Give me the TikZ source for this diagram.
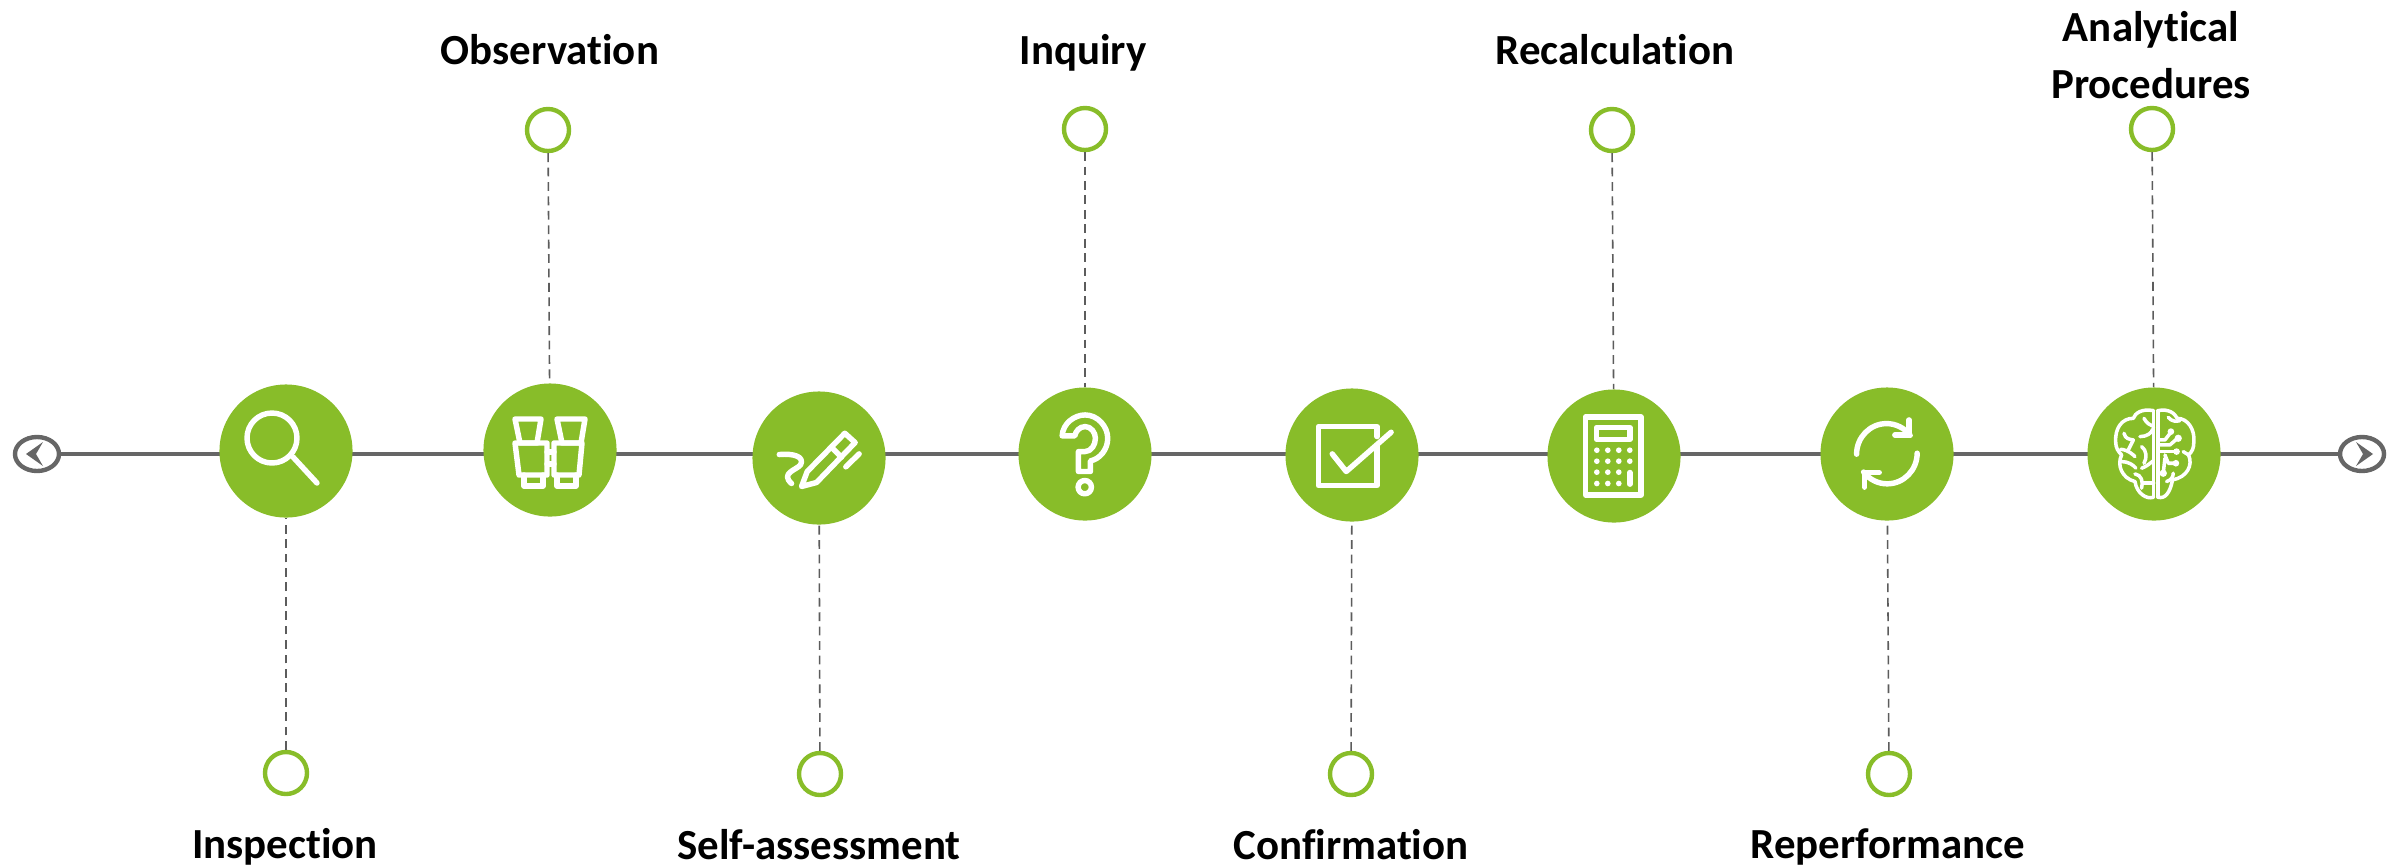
\documentclass[tikz,border=0pt]{standalone}
\usepackage{fontspec}
\setmainfont[Ligatures=NoCommon]{Carlito}
\usetikzlibrary{shapes.geometric}
\definecolor{lime}{HTML}{88BD29}
\definecolor{rule}{HTML}{666666}
\definecolor{ink}{HTML}{000000}
\tikzset{
  x=0.01cm,y=-0.01cm,
  hub/.style={circle,fill=lime,minimum size=1.33cm,inner sep=0pt},
  dot/.style={circle,draw=lime,line width=1.25pt,fill=white,minimum size=0.42cm,inner sep=0pt},
  axis/.style={draw=rule,line width=1pt},
  leader/.style={draw=rule!90!black,line width=0.45pt,dash pattern=on 2.5pt off 1.6pt},
  glyph/.style={draw=white,line width=1.55pt,line cap=round,line join=round},
  glyphthin/.style={draw=white,line width=1pt,line cap=round,line join=round},
  lab/.style={font=\fontsize{12.2}{16.2}\selectfont\bfseries,text=ink,align=center,inner sep=0pt},
  endcap/.style={ellipse,draw=rule,line width=1.25pt,fill=white,minimum width=0.44cm,minimum height=0.34cm,inner sep=0pt}
}
\begin{document}
\begin{tikzpicture}
\useasboundingbox (0,0) rectangle (2400,866);
\fill[white] (0,0) rectangle (2400,866);
\node[endcap] (L) at (37,454) {};
\node[endcap] (R) at (2362,454) {};
\draw[axis] (L) -- (R);
\fill[rule] (43,442) -- (26,454) -- (43,466) -- (36,454) -- cycle;
\fill[rule] (2356,442) -- (2373,454) -- (2356,466) -- (2363,454) -- cycle;
% hubs
\node[hub] (h1) at (286,451) {};
\node[hub] (h2) at (550,450) {};
\node[hub] (h3) at (819,458) {};
\node[hub] (h4) at (1085,454) {};
\node[hub] (h5) at (1352,455) {};
\node[hub] (h6) at (1614,456) {};
\node[hub] (h7) at (1887,454) {};
\node[hub] (h8) at (2154,454) {};
% dots
\node[dot] (d1) at (286,773) {};
\node[dot] (d2) at (548,130) {};
\node[dot] (d3) at (820,774) {};
\node[dot] (d4) at (1085,129) {};
\node[dot] (d5) at (1351,774) {};
\node[dot] (d6) at (1612,130) {};
\node[dot] (d7) at (1889,774) {};
\node[dot] (d8) at (2152,129) {};
\draw[leader] (d1) -- (h1);
\draw[leader] (d2) -- (h2);
\draw[leader] (d3) -- (h3);
\draw[leader] (d4) -- (h4);
\draw[leader] (d5) -- (h5);
\draw[leader] (d6) -- (h6);
\draw[leader] (d7) -- (h7);
\draw[leader] (d8) -- (h8);
% labels
\node[lab,anchor=base] (t1) at (285,858) {Inspection};
\node[lab,anchor=base] (t2) at (550,64) {Observation};
\node[lab,anchor=base] (t3) at (819,859) {Self-assessment};
\node[lab,anchor=base] (t4) at (1083,64) {Inquiry};
\node[lab,anchor=base] (t5) at (1351,859) {Confirmation};
\node[lab,anchor=base] (t6) at (1615,64) {Recalculation};
\node[lab,anchor=base] (t7) at (1888,858) {Reperformance};
\node[lab] (t8) at (2151,55) {Analytical\\Procedures};
% magnifier
\draw[glyph] (272,438) circle (25);
\draw[glyph] (293,457) -- (317,483);
% binoculars
\begin{scope}[shift={(550,450)}]
\draw[glyph] (-35,-31) -- (-9,-31) -- (-13,-7) -- (-30,-7) -- cycle;
\draw[glyph] (7,-31) -- (35,-31) -- (31,-7) -- (12,-7) -- cycle;
\draw[glyph] (-35,-7) -- (-3,-7) -- (-3,25) -- (-31,25) -- cycle;
\draw[glyph] (4,-7) -- (32,-7) -- (29,25) -- (4,25) -- cycle;
\draw[glyph] (-3,2) -- (4,2) (-3,14) -- (4,14);
\draw[glyph] (-26,25) -- (-26,36) -- (-7,36) -- (-7,25);
\draw[glyph] (7,25) -- (7,36) -- (26,36) -- (26,25);
\end{scope}
% pen
\begin{scope}[shift={(730,370)},x=0.00333cm,y=-0.00333cm]
\draw[glyph] (215,350) -- (232,305) -- (345,190) -- (376,218) -- (260,338) -- cycle;
\draw[glyph] (305,232) -- (335,262);
\draw[glyph] (348,291) -- (388,252);
\draw[glyph] (148,254) .. controls (190,250) and (225,260) .. (212,285) .. controls (200,300) and (150,310) .. (185,341);
\end{scope}
% question mark
\begin{scope}[shift={(730,370)},x=0.00333cm,y=-0.00333cm]
\draw[glyph] (998,198) .. controls (1000,160) and (1035,135) .. (1067,135)
  .. controls (1105,135) and (1135,170) .. (1135,205)
  .. controls (1135,240) and (1110,268) .. (1083,273)
  -- (1083,305) -- (1047,305) -- (1047,245) -- (1067,245)
  .. controls (1085,245) and (1098,225) .. (1098,205)
  .. controls (1098,188) and (1085,170) .. (1067,170)
  .. controls (1050,170) and (1038,185) .. (1036,198) -- cycle;
\draw[glyph] (1066,352) circle (20);
\end{scope}
% checkbox
\begin{scope}[shift={(1270,370)},x=0.00333cm,y=-0.00333cm]
\draw[glyph] (322,200) -- (322,170) -- (145,170) -- (145,347) -- (322,347) -- (322,226);
\draw[glyph] (187,252) -- (229,305) -- (364,187);
\end{scope}
% calculator
\begin{scope}[shift={(1270,370)},x=0.00333cm,y=-0.00333cm]
\draw[glyph] (948,141) rectangle (1115,375);
\draw[glyph] (981,173) rectangle (1082,208);
\foreach \px in {982,1015,1048}{\foreach \py in {241,274,307,341}{\fill[white] (\px,\py) circle (8.5);}}
\foreach \py in {241,274}{\fill[white] (1081,\py) circle (8.5);}
\draw[glyph] (1081,308) -- (1081,343);
\end{scope}
% refresh arrows
\begin{scope}[shift={(1800,370)},x=0.00333cm,y=-0.00333cm]
\draw[glyph] (170,253) arc (180:322:90 and 92);
\draw[glyph] (328,150) -- (328,195) -- (285,195);
\draw[glyph] (352,250) arc (0:142:90 and 92);
\draw[glyph] (194,352) -- (194,308) -- (238,308);
\end{scope}
% brain
\begin{scope}[shift={(2100,400)},x=0.00333cm,y=-0.00333cm]
\draw[glyphthin] (161,32) -- (161,292) (174,32) -- (174,292);
\draw[glyphthin] (161,32) .. controls (125,25) and (105,40) .. (100,55)
  .. controls (65,55) and (45,85) .. (47,125)
  .. controls (47,145) and (55,155) .. (65,165)
  .. controls (50,195) and (65,235) .. (105,245)
  .. controls (110,280) and (140,300) .. (161,292);
\draw[glyphthin] (174,32) .. controls (205,25) and (225,40) .. (232,55)
  .. controls (265,55) and (285,90) .. (282,125)
  .. controls (282,145) and (277,155) .. (266,165)
  .. controls (280,195) and (262,232) .. (218,240)
  .. controls (210,280) and (195,298) .. (174,292);
\draw[glyphthin] (132,55) .. controls (140,70) and (150,75) .. (161,80);
\draw[glyphthin] (120,110) .. controls (140,110) and (155,100) .. (158,88);
\draw[glyphthin] (72,100) .. controls (76,118) and (90,118) .. (100,120) -- (85,150);
\draw[glyphthin] (62,148) .. controls (85,150) and (100,165) .. (105,170);
\draw[glyphthin] (125,140) .. controls (140,150) and (142,175) .. (132,190);
\draw[glyphthin] (125,205) .. controls (140,200) and (150,190) .. (161,182);
\draw[glyphthin] (65,185) .. controls (85,185) and (100,195) .. (108,205);
\draw[glyphthin] (105,222) .. controls (125,225) and (130,245) .. (125,265);
\draw[glyphthin] (130,250) -- (161,250);
\draw[glyphthin] (174,120) -- (195,120) -- (213,97);
\draw[glyphthin] (174,135) -- (210,135) -- (233,115);
\draw[glyphthin] (174,155) -- (230,155);
\draw[glyphthin] (195,165) -- (205,190) -- (228,190);
\draw[glyphthin] (190,220) -- (195,175);
\draw[glyphthin] (205,52) .. controls (215,65) and (230,65) .. (240,62);
\draw[glyphthin] (250,155) -- (266,165);
\draw[glyphthin] (200,245) .. controls (215,240) and (220,230) .. (220,220);
\fill[white] (213,95) circle (10) (235,115) circle (11) (230,155) circle (10) (228,190) circle (10) (190,220) circle (11);
\end{scope}
\end{tikzpicture}
\end{document}
